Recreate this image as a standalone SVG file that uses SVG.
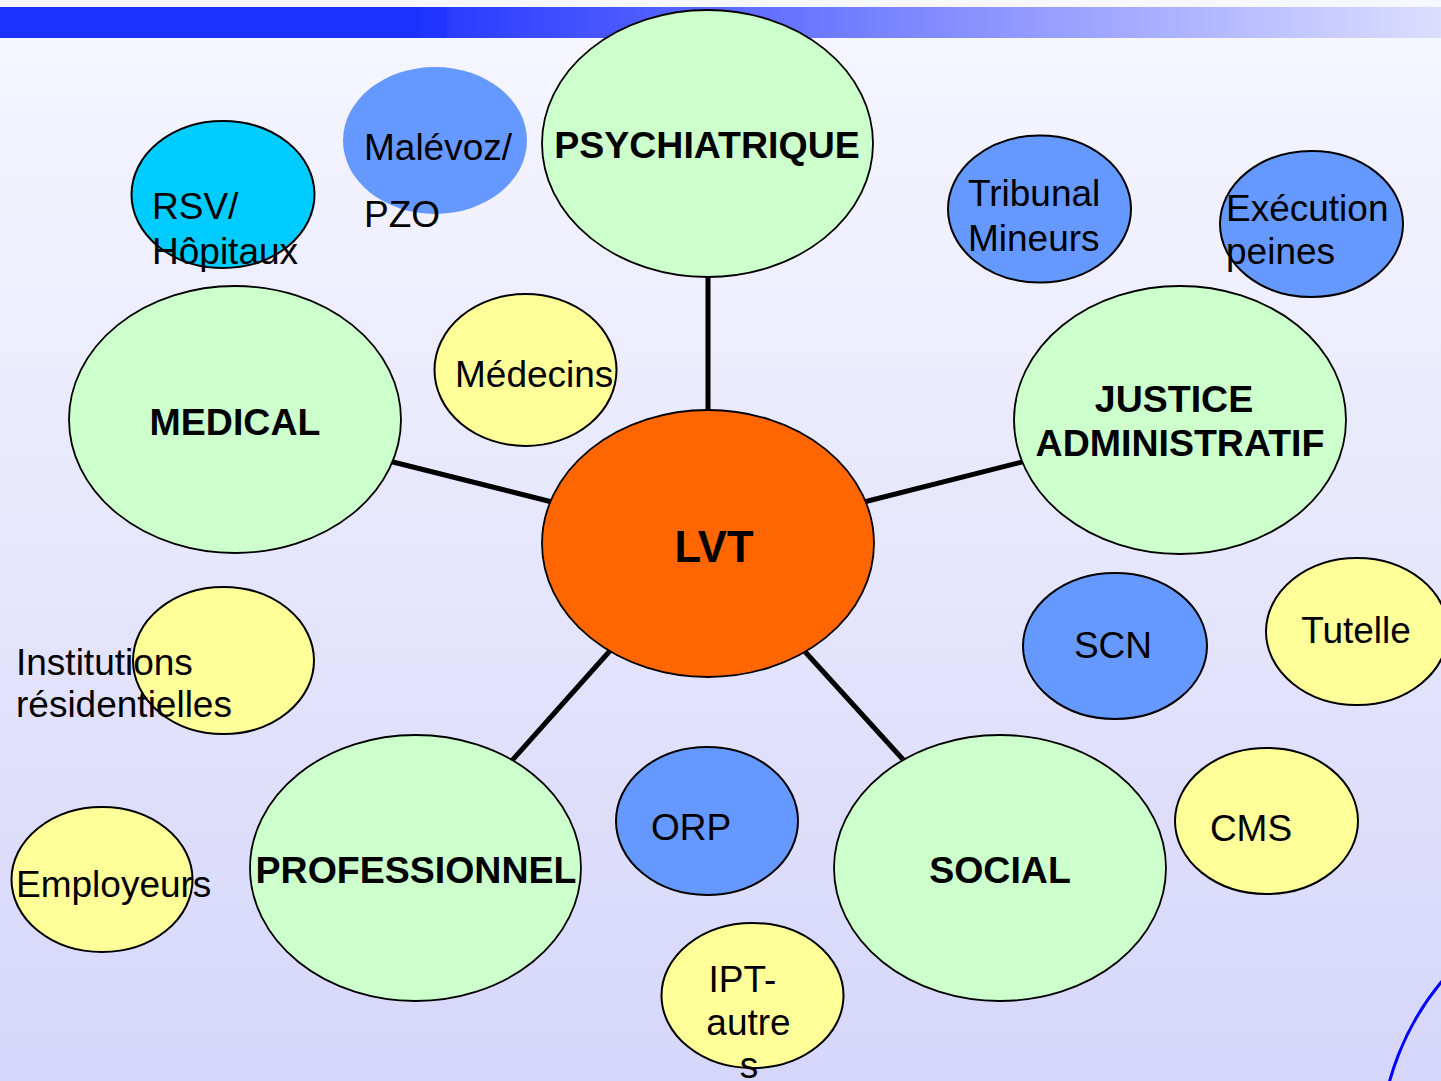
<svg xmlns="http://www.w3.org/2000/svg" width="1441" height="1081" viewBox="0 0 1441 1081">
<defs>
<linearGradient id="bg" x1="0" y1="0" x2="0" y2="1">
<stop offset="0" stop-color="#f7f7ff"/>
<stop offset="1" stop-color="#d6d6fa"/>
</linearGradient>
<linearGradient id="bar" x1="447" y1="0" x2="1441" y2="0" gradientUnits="userSpaceOnUse">
<stop offset="0" stop-color="#2a3cff"/>
<stop offset="1" stop-color="#dcdeff"/>
</linearGradient>
<style>
.big{fill:#ccffcc;stroke:#000;stroke-width:1.8}
.yel{fill:#ffff99;stroke:#000;stroke-width:2}
.blu{fill:#6699ff;stroke:#000;stroke-width:2}
.cya{fill:#00ccff;stroke:#000;stroke-width:2}
.b{font-family:"Liberation Sans",Arial,sans-serif;font-weight:bold;font-size:37.5px;fill:#000;text-anchor:middle}
.t{font-family:"Liberation Sans",Arial,sans-serif;font-size:37px;fill:#000}
.m{text-anchor:middle}
.con line{stroke:#000;stroke-width:5}
</style>
</defs>
<rect x="0" y="0" width="1441" height="1081" fill="url(#bg)"/>
<rect x="0" y="7" width="420" height="31" fill="#1a31ff"/>
<rect x="420" y="7" width="27" height="31" fill="#2034ff"/>
<rect x="447" y="7" width="994" height="31" fill="url(#bar)"/>
<circle cx="1646" cy="1152" r="266" fill="none" stroke="#0000ff" stroke-width="3"/>
<g id="connectors" class="con">
<line x1="708" y1="270" x2="708" y2="420"/>
<line x1="385" y1="460" x2="560" y2="504"/>
<line x1="856" y1="504" x2="1030" y2="460"/>
<line x1="616" y1="644" x2="508" y2="765"/>
<line x1="798" y1="644" x2="908" y2="765"/>
</g>
<g id="psychiatrique"><ellipse class="big" cx="707.5" cy="143.5" rx="165.5" ry="133.5"/><text class="b" x="707" y="158">PSYCHIATRIQUE</text></g>
<g id="medical"><ellipse class="big" cx="235" cy="419.5" rx="166" ry="133.5"/><text class="b" x="235" y="435">MEDICAL</text></g>
<g id="justice"><ellipse class="big" cx="1180" cy="420" rx="166" ry="134"/><text class="b" x="1174" y="412">JUSTICE</text><text class="b" x="1180" y="456">ADMINISTRATIF</text></g>
<g id="lvt"><ellipse cx="708" cy="543.5" rx="166" ry="133.5" fill="#ff6600" stroke="#000" stroke-width="1.8"/><text class="b" x="714" y="562" style="font-size:43.5px">LVT</text></g>
<g id="professionnel"><ellipse class="big" cx="415.5" cy="868" rx="165.5" ry="133"/><text class="b" x="416" y="883">PROFESSIONNEL</text></g>
<g id="social"><ellipse class="big" cx="1000" cy="868" rx="166" ry="133"/><text class="b" x="1000" y="883">SOCIAL</text></g>
<g id="rsv"><ellipse class="cya" cx="223" cy="194.5" rx="91.5" ry="73.5"/><text class="t" x="152" y="219">RSV/</text><text class="t" x="152" y="264">Hôpitaux</text></g>
<g id="malevoz"><ellipse cx="435" cy="140.5" rx="92" ry="73.5" fill="#6699ff"/><text class="t" x="364" y="160">Malévoz/</text><text class="t" x="364" y="227">PZO</text></g>
<g id="medecins"><ellipse class="yel" cx="525.5" cy="370" rx="91" ry="76"/><text class="t" x="455" y="387">Médecins</text></g>
<g id="tribunal"><ellipse class="blu" cx="1039.5" cy="209" rx="91.5" ry="73.5"/><text class="t" x="968" y="206">Tribunal</text><text class="t" x="968" y="251">Mineurs</text></g>
<g id="execution"><ellipse class="blu" cx="1311.5" cy="224" rx="91.5" ry="73"/><text class="t" x="1226" y="221">Exécution</text><text class="t" x="1226" y="264">peines</text></g>
<g id="scn"><ellipse class="blu" cx="1115" cy="646" rx="92" ry="73"/><text class="t m" x="1113" y="658">SCN</text></g>
<g id="tutelle"><ellipse class="yel" cx="1357" cy="631.5" rx="91" ry="73.5"/><text class="t m" x="1356" y="643">Tutelle</text></g>
<g id="cms"><ellipse class="yel" cx="1266.5" cy="821" rx="91.5" ry="73"/><text class="t m" x="1251" y="841">CMS</text></g>
<g id="orp"><ellipse class="blu" cx="707" cy="821" rx="91" ry="74"/><text class="t" x="651" y="840">ORP</text></g>
<g id="ipt"><ellipse class="yel" cx="752.5" cy="995.5" rx="91" ry="72.5"/><text class="t m" x="742.5" y="992">IPT-</text><text class="t m" x="748.5" y="1035">autre</text><text class="t m" x="749" y="1078">s</text></g>
<g id="institutions"><ellipse class="yel" cx="223.5" cy="660.5" rx="90.5" ry="73.5"/><text class="t" x="16" y="675">Institutions</text><text class="t" x="16" y="717">résidentielles</text></g>
<g id="employeurs"><ellipse class="yel" cx="102" cy="879.5" rx="90.5" ry="72.5"/><text class="t" x="16" y="897">Employeurs</text></g>
</svg>
